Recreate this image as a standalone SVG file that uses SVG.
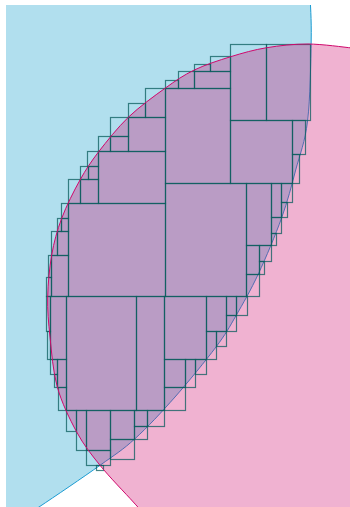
<svg xmlns="http://www.w3.org/2000/svg" width="350" height="507" viewBox="0 0 350 507">
<style>
.c{fill:none;stroke:#0a5c5c;stroke-opacity:0.75;stroke-width:1.2}
</style>
<defs>
<clipPath id="area"><rect x="6" y="5" width="344" height="502"/></clipPath>
<path id="blue" d="M310,-5 C310.2,2.5 311.6,19.05 311.2,40 C310.8,60.95 310.2,99 307.6,120.7 C305,142.4 300,153.8 295.7,170 C291.4,186.2 287.9,200.4 281.7,217.7 C275.5,235 265.9,257.7 258.3,274 C250.7,290.3 243.05,303.5 236,315.7 C228.95,327.9 226.2,333.45 216,347 C205.8,360.55 188.5,381.7 175,397 C161.5,412.3 147.5,427.3 135,438.7 C122.5,450.1 116,453.9 100,465.3 C84,476.7 54,497.05 39,507 C24,516.95 14.8,522 10,525 L-10,525 L-10,-5 Z"/>
<path id="pink" d="M352,48 C344.7,47.3 322.2,44.05 308,44 C293.8,43.95 279.6,45.6 266.7,47.7 C253.8,49.8 242.8,53 230.7,56.7 C218.6,60.4 205.3,64.7 194.3,70 C183.4,75.3 176,80.4 165,88.3 C154,96.2 139.4,106.7 128.3,117.3 C117.3,127.9 106.8,141.3 98.7,151.7 C90.7,162.2 86.2,168.9 80,180 C73.8,191.1 66.4,205.8 61.7,218.3 C57,230.8 54,241.9 51.7,255 C49.4,268.1 48,283 47.7,296.7 C47.4,310.4 48.4,322 50,337 C51.6,352.1 52.9,371.2 57.3,387 C61.75,402.8 69.6,419 76.7,432 C83.8,445.05 90.6,453.6 100,465.3 C109.4,477 125.8,493.7 133.3,502 C140.8,510.3 143,512.8 145,515 L352,515 Z"/>
</defs>
<rect width="350" height="507" fill="#ffffff"/>
<g id="ellipses" clip-path="url(#area)">
<use href="#blue" fill="#b1dfee" stroke="#1a9bd2" stroke-width="1"/>
<use href="#pink" fill="#d0086c" fill-opacity="0.31" stroke="none"/>
</g>
<g id="cells">
<rect class="c" x="230.5" y="44.5" width="36" height="76"/>
<rect class="c" x="266.5" y="44.5" width="44" height="76"/>
<rect class="c" x="210.5" y="56.5" width="20" height="15"/>
<rect class="c" x="194.5" y="64.5" width="16" height="7"/>
<rect class="c" x="178.5" y="71.5" width="16" height="17"/>
<rect class="c" x="194.5" y="71.5" width="36" height="17"/>
<rect class="c" x="165.5" y="80.5" width="13" height="8"/>
<rect class="c" x="165.5" y="88.5" width="65" height="95"/>
<rect class="c" x="230.5" y="120.5" width="62" height="63"/>
<rect class="c" x="292.5" y="120.5" width="13" height="34"/>
<rect class="c" x="292.5" y="154.5" width="7" height="29"/>
<rect class="c" x="145.5" y="88.5" width="20" height="29"/>
<rect class="c" x="128.5" y="103.5" width="17" height="14"/>
<rect class="c" x="128.5" y="117.5" width="37" height="34"/>
<rect class="c" x="110.5" y="117.5" width="18" height="19"/>
<rect class="c" x="110.5" y="136.5" width="18" height="15"/>
<rect class="c" x="98.5" y="136.5" width="12" height="15"/>
<rect class="c" x="87.5" y="151.5" width="11" height="15"/>
<rect class="c" x="80.5" y="166.5" width="8" height="13"/>
<rect class="c" x="88.5" y="166.5" width="10" height="13"/>
<rect class="c" x="98.5" y="151.5" width="67" height="52"/>
<rect class="c" x="68.5" y="179.5" width="12" height="24"/>
<rect class="c" x="80.5" y="179.5" width="18" height="24"/>
<rect class="c" x="61.5" y="203.5" width="7" height="15"/>
<rect class="c" x="57.5" y="218.5" width="4" height="13"/>
<rect class="c" x="61.5" y="218.5" width="7" height="13"/>
<rect class="c" x="51.5" y="231.5" width="6" height="24"/>
<rect class="c" x="57.5" y="231.5" width="11" height="24"/>
<rect class="c" x="48.5" y="255.5" width="3" height="22"/>
<rect class="c" x="46.5" y="277.5" width="5" height="19"/>
<rect class="c" x="51.5" y="255.5" width="17" height="41"/>
<rect class="c" x="68.5" y="203.5" width="97" height="93"/>
<rect class="c" x="165.5" y="183.5" width="81" height="113"/>
<rect class="c" x="246.5" y="183.5" width="25" height="62"/>
<rect class="c" x="271.5" y="183.5" width="10" height="34"/>
<rect class="c" x="281.5" y="183.5" width="11" height="19"/>
<rect class="c" x="281.5" y="202.5" width="6" height="15"/>
<rect class="c" x="271.5" y="217.5" width="10" height="16"/>
<rect class="c" x="271.5" y="233.5" width="5" height="12"/>
<rect class="c" x="246.5" y="245.5" width="13" height="29"/>
<rect class="c" x="259.5" y="245.5" width="12" height="16"/>
<rect class="c" x="259.5" y="261.5" width="5" height="13"/>
<rect class="c" x="246.5" y="274.5" width="13" height="22"/>
<rect class="c" x="164.5" y="296.5" width="42" height="63"/>
<rect class="c" x="206.5" y="296.5" width="20" height="35"/>
<rect class="c" x="226.5" y="296.5" width="10" height="19"/>
<rect class="c" x="236.5" y="296.5" width="11" height="19"/>
<rect class="c" x="226.5" y="315.5" width="10" height="16"/>
<rect class="c" x="206.5" y="331.5" width="10" height="28"/>
<rect class="c" x="216.5" y="331.5" width="10" height="15"/>
<rect class="c" x="164.5" y="359.5" width="21" height="28"/>
<rect class="c" x="164.5" y="387.5" width="21" height="23"/>
<rect class="c" x="185.5" y="359.5" width="10" height="28"/>
<rect class="c" x="195.5" y="359.5" width="11" height="15"/>
<rect class="c" x="66.5" y="296.5" width="70" height="114"/>
<rect class="c" x="136.5" y="296.5" width="28" height="114"/>
<rect class="c" x="66.5" y="410.5" width="10" height="21"/>
<rect class="c" x="76.5" y="410.5" width="10" height="40"/>
<rect class="c" x="86.5" y="410.5" width="24" height="40"/>
<rect class="c" x="86.5" y="450.5" width="24" height="15"/>
<rect class="c" x="96.5" y="465.5" width="7" height="5"/>
<rect class="c" x="110.5" y="410.5" width="24" height="29"/>
<rect class="c" x="110.5" y="439.5" width="24" height="20"/>
<rect class="c" x="134.5" y="410.5" width="13" height="16"/>
<rect class="c" x="147.5" y="410.5" width="17" height="16"/>
<rect class="c" x="134.5" y="426.5" width="13" height="13"/>
<rect class="c" x="46.5" y="296.5" width="4" height="35"/>
<rect class="c" x="47.5" y="331.5" width="3" height="28"/>
<rect class="c" x="50.5" y="296.5" width="16" height="63"/>
<rect class="c" x="50.5" y="359.5" width="7" height="15"/>
<rect class="c" x="54.5" y="374.5" width="3" height="13"/>
<rect class="c" x="57.5" y="359.5" width="9" height="28"/>
<rect class="c" x="58.5" y="387.5" width="8" height="23"/>
</g>
<g id="outline" clip-path="url(#area)">
<use href="#pink" fill="none" stroke="#d0086c" stroke-width="1"/>
</g>
</svg>
